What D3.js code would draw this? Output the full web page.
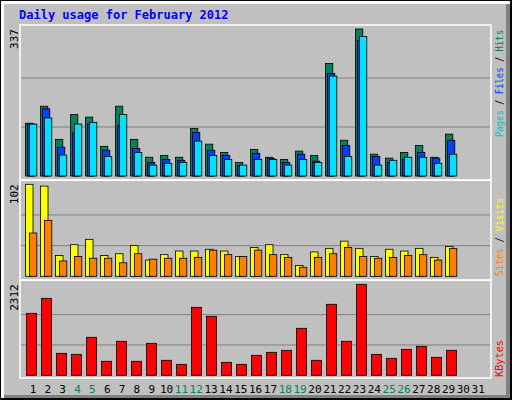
<!DOCTYPE html>
<meta charset="utf-8">
<style>
  body{margin:0;background:#fff}
  text{font-family:"DejaVu Sans Mono",monospace}
</style>
<script src="https://d3js.org/d3.v7.min.js"></script>
<div id="chart"></div>
<script>
// days of February 2012
var days = d3.range(1, 32);
var weekend = [4, 5, 11, 12, 18, 19, 25, 26];

// values (day 1..29)
var hits   = [121,160,84,141,135,68,160,84,43,47,43,109,73,54,31,61,43,38,57,47,258,82,337,50,41,54,70,43,96];
var files  = [119,154,66,100,119,59,116,63,31,38,36,100,59,47,24,52,40,31,50,34,235,70,311,45,31,38,54,41,82];
var pages  = [119,133,48,119,123,45,141,54,25,29,31,80,47,38,25,38,38,25,38,31,229,45,320,25,36,43,43,29,50];
var visits = [102,100,23,35,41,23,25,34,18,24,28,28,30,28,22,32,35,24,12,27,31,39,31,22,30,28,31,21,33];
var sites  = [48,62,17,22,20,20,15,25,19,20,20,21,29,24,22,29,24,21,10,21,25,32,22,20,21,23,24,18,31];
var kbytes = [1575,1956,559,533,965,356,864,356,813,381,279,1727,1499,330,279,508,584,635,1194,381,1804,864,2312,533,432,660,737,457,635];

var W = 512, H = 400;
var svg = d3.select("#chart").append("svg").attr("width", W).attr("height", H);

// frame
svg.append("rect").attr("x",0).attr("y",0).attr("width",W).attr("height",H).attr("fill","#000");
svg.append("rect").attr("x",1).attr("y",1).attr("width",W-3).attr("height",H-3).attr("fill","#fff");
svg.append("rect").attr("x",4).attr("y",4).attr("width",W-6).attr("height",H-6).attr("fill","#808080");
svg.append("rect").attr("x",4).attr("y",4).attr("width",W-10).attr("height",H-9).attr("fill","#C0C0C0");

svg.append("text").attr("x",19).attr("y",19).attr("fill","#0000FF")
  .style("font-size","12px").style("font-weight","bold").text("Daily usage for February 2012");

var x = d3.scaleBand().domain(days).range([25, 25 + 31*15]).paddingInner(0).paddingOuter(0);
var left = 20, right = 491;

function panel(top, base, bottom, max, label) {
  var y = d3.scaleLinear().domain([0, max]).range([base, top]);
  svg.append("rect").attr("x",left).attr("y",top-4).attr("width",right-left).attr("height",bottom-top+4)
    .attr("fill","none").attr("stroke","#fff").attr("stroke-width",1.5);
  [1/3, 2/3].forEach(function(f){
    svg.append("line").attr("x1",left+1).attr("x2",right-1)
      .attr("y1",y(max*f)).attr("y2",y(max*f)).attr("stroke","#808080").attr("stroke-width",1);
  });
  svg.append("text").attr("transform","translate(" + 18 + "," + top + ")rotate(-90)")
    .attr("text-anchor","end").style("font-size","11px").attr("fill","#000").text(label);
  return y;
}

function bars(y, data, off, w, color) {
  svg.append("g").selectAll("rect").data(data).enter().append("rect")
    .attr("x", function(d, i){ return x(i+1) + off; })
    .attr("y", function(d){ return y(d); })
    .attr("width", w)
    .attr("height", function(d){ return y(0) - y(d); })
    .attr("fill", color).attr("stroke","#000").attr("stroke-width",0.8);
}

function sideLabel(cx, cy, len, parts) {
  var t = svg.append("text").attr("transform","translate(" + cx + "," + cy + ")rotate(-90)")
    .style("font-size","10px").attr("textLength", len).attr("lengthAdjust","spacingAndGlyphs");
  parts.forEach(function(p){ t.append("tspan").attr("fill", p[1]).text(p[0]); });
}

// hits / files / pages
var y1 = panel(29, 176, 180, 337, "337");
bars(y1, hits, 0.5, 7.3, "#00805C");
bars(y1, files, 2.5, 7.3, "#0040FF");
bars(y1, pages, 4.5, 7.3, "#00E0FF");
sideLabel(503, 137, 107, [["Pages","#00C0D0"],[" / ","#000"],["Files","#0040FF"],[" / ","#000"],["Hits","#00805C"]]);

// visits / sites
var y2 = panel(184.3, 276.3, 280, 102, "102");
bars(y2, visits, 0.5, 7.5, "#FFFF00");
bars(y2, sites, 4.5, 7.3, "#FF8000");
sideLabel(503, 276, 78, [["Sites","#FF8000"],[" / ","#000"],["Visits","#FFFF00"]]);

// kbytes
var y3 = panel(284.3, 375.3, 378, 2312, "2312");
bars(y3, kbytes, 1.5, 10, "#FF0000");
sideLabel(503, 377, 37, [["KBytes","#FF0000"]]);

// day labels
svg.append("g").selectAll("text").data(days).enter().append("text")
  .attr("x", function(d){ return x(d) + 8 - (d-1)*0.16; })
  .attr("y", 393).attr("text-anchor","middle").style("font-size","11px")
  .attr("fill", function(d){ return weekend.indexOf(d) >= 0 ? "#00805C" : "#000"; })
  .text(function(d){ return d; });
</script>
